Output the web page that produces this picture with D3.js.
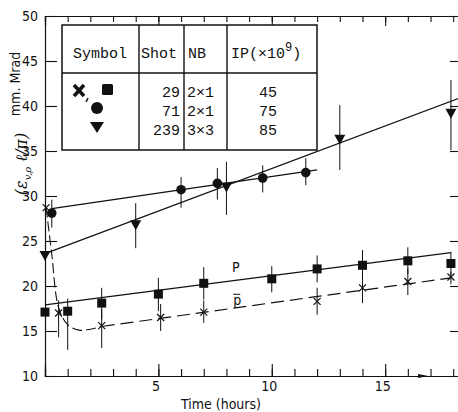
<!DOCTYPE html>
<html><head><meta charset="utf-8">
<script src="https://cdn.jsdelivr.net/npm/d3@7"></script>
<style>
html,body{margin:0;padding:0;background:#fff;}
svg{display:block;}
.lab{font-family:"DejaVu Sans Condensed","Liberation Sans Narrow","DejaVu Sans",sans-serif;font-stretch:condensed;font-size:14px;fill:#111;}
.mono{font-family:"Liberation Mono","DejaVu Sans Mono",monospace;font-size:15px;fill:#111;}
</style></head>
<body>
<svg id="c" width="458" height="412"></svg>
<script>
// p (squares, shot 29)
const tSq  = [0, 1.0, 2.5, 5.0, 7.0, 10.0, 12.0, 14.0, 16.0, 17.9];
const vSq  = [17.1, 17.2, 18.1, 19.1, 20.3, 20.8, 21.9, 22.3, 22.8, 22.5];
const loSq = [17.1, 12.9, 16.3, 17.2, 18.5, 19.3, 20.4, 20.6, 21.3, 21.2];
const hiSq = [17.1, 18.6, 19.8, 20.9, 22.1, 22.2, 23.4, 24.0, 24.3, 23.8];
// pbar (crosses, shot 29)
const tX  = [0.05, 0.6, 2.5, 5.1, 7.0, 12.0, 14.0, 16.0, 17.9];
const vX  = [28.7, 17.0, 15.6, 16.5, 17.1, 18.3, 19.8, 20.5, 21.0];
const loX = [28.7, 14.3, 13.1, 15.0, 15.9, 16.8, 18.1, 19.0, 20.2];
const hiX = [28.7, 18.4, 17.4, 18.0, 18.4, 19.8, 21.4, 22.0, 21.6];
// circles (shot 71)
const tC  = [0.3, 6.0, 7.6, 9.6, 11.5];
const vC  = [28.1, 30.7, 31.4, 32.0, 32.6];
const loC = [26.5, 28.7, 29.6, 30.4, 31.2];
const hiC = [29.6, 32.1, 33.1, 33.4, 34.2];
// triangles (shot 239)
const tT  = [0, 4.0, 8.0, 13.0, 17.9];
const vT  = [23.4, 26.8, 31.0, 36.3, 39.2];
const loT = [23.4, 24.2, 27.9, 32.9, 35.1];
const hiT = [23.4, 29.2, 33.8, 40.1, 42.9];
// fitted lines
const fitP    = [[0, 17.9], [17.9, 23.7]];
const fitC    = [[0.3, 28.6], [12.0, 32.9]];
const fitT    = [[0, 23.6], [18.4, 41.0]];
const fitPbarCurve = [[0.05, 28.7], [0.3, 23.5], [0.6, 17.6], [1.0, 15.7], [1.5, 15.1], [2.0, 15.2], [2.5, 15.5]];
const fitPbarLine  = [[2.5, 15.5], [17.9, 20.9]];
// axes
const yTicks = [10, 15, 20, 25, 30, 35, 40, 45, 50];
const xMajor = [5, 10, 15];
const xMinor = d3.range(0, 19);
// table
const tableHead = ["Symbol", "Shot", "NB", "IP"];
const shots = ["29", "71", "239"];
const nbs = ["2×1", "2×1", "3×3"];
const ips = ["45", "75", "85"];

const svg = d3.select("#c");
const x = d3.scaleLinear().domain([0, 18.3]).range([45, 460]);
const y = d3.scaleLinear().domain([10, 50]).range([376, 16]);

// frame lines
const g = svg.append("g").attr("stroke", "#111").attr("fill", "none");
// left axis
const la = svg.append("g").attr("transform", "translate(45,0)")
  .call(d3.axisLeft(y).tickValues(yTicks).tickSize(-12).tickPadding(7).tickFormat(d3.format("d")));
la.selectAll("text").attr("class", "lab").attr("font-family", null).attr("font-size", null);
// right ticks
svg.append("g").attr("transform", "translate(460,0)")
  .call(d3.axisRight(y).tickValues(yTicks).tickSize(-10).tickFormat(""));
// bottom axis
svg.append("g").attr("transform", "translate(0,376)")
  .call(d3.axisBottom(x).tickValues(xMinor).tickSize(-7).tickFormat(""));
const ba = svg.append("g").attr("transform", "translate(0,376)")
  .call(d3.axisBottom(x).tickValues(xMajor).tickSize(-12).tickPadding(5).tickFormat(d3.format("d")));
ba.selectAll("text").attr("class", "lab").attr("font-family", null).attr("font-size", null).attr("dx", -3);
// top axis
svg.append("g").attr("transform", "translate(0,16)")
  .call(d3.axisTop(x).tickValues(xMinor).tickSize(-6).tickFormat(""));
svg.append("g").attr("transform", "translate(0,16)")
  .call(d3.axisTop(x).tickValues(xMajor).tickSize(-10).tickFormat(""));
svg.selectAll(".domain").attr("stroke", "#111").attr("stroke-width", 1.2);
svg.selectAll(".tick line").attr("stroke", "#111").attr("stroke-width", 1.1);

// arrow on x axis
svg.append("path")
  .attr("d", `M${x(16.45)},${376 - 2} L${x(16.9)},376 L${x(16.45)},${376 + 2} Z`)
  .attr("fill", "#111");

const line = d3.line().x(d => x(d[0])).y(d => y(d[1]));
const lines = svg.append("g").attr("fill", "none").attr("stroke", "#111");
lines.append("path").attr("d", line(fitP)).attr("stroke-width", 1.3);
lines.append("path").attr("d", line(fitC)).attr("stroke-width", 1.3);
lines.append("path").attr("d", line(fitT)).attr("stroke-width", 1.3);
lines.append("path").attr("d", line.curve(d3.curveCatmullRom)(fitPbarCurve))
  .attr("stroke-width", 1.1).attr("stroke-dasharray", "10,4");
line.curve(d3.curveLinear);
lines.append("path").attr("d", line(fitPbarLine)).attr("stroke-width", 1.2).attr("stroke-dasharray", "13,6");

// error bars
function errs(ts, lo, hi) {
  svg.append("g").attr("stroke", "#111").attr("stroke-width", 1)
    .selectAll("line").data(ts).join("line")
    .attr("x1", d => x(d)).attr("x2", d => x(d))
    .attr("y1", (d, i) => y(lo[i])).attr("y2", (d, i) => y(hi[i]));
}
errs(tSq, loSq, hiSq); errs(tX, loX, hiX); errs(tC, loC, hiC); errs(tT, loT, hiT);

// markers
svg.append("g").selectAll("rect").data(tSq).join("rect")
  .attr("x", d => x(d) - 4.5).attr("y", (d, i) => y(vSq[i]) - 4.5)
  .attr("width", 9).attr("height", 9).attr("fill", "#111");
svg.append("g").selectAll("circle").data(tC).join("circle")
  .attr("cx", d => x(d)).attr("cy", (d, i) => y(vC[i])).attr("r", 4.8).attr("fill", "#111");
svg.append("g").selectAll("path").data(tT).join("path")
  .attr("d", (d, i) => { const cx = x(d), cy = y(vT[i]); return `M${cx-5.5},${cy-4.5} L${cx+5.5},${cy-4.5} L${cx},${cy+5.5} Z`; })
  .attr("fill", "#111");
svg.append("g").attr("stroke", "#111").attr("stroke-width", 1.2).selectAll("path").data(tX).join("path")
  .attr("d", (d, i) => { const cx = x(d), cy = y(vX[i]); return `M${cx-3.5},${cy-3.5}L${cx+3.5},${cy+3.5}M${cx-3.5},${cy+3.5}L${cx+3.5},${cy-3.5}`; });

// labels P and pbar
svg.append("text").attr("class", "lab").attr("x", x(8.25)).attr("y", y(22.1) + 5).attr("font-size", 15).text("P");
svg.append("text").attr("class", "lab").attr("x", x(8.3)).attr("y", y(18.3) + 4).attr("font-size", 14).text("p");
svg.append("line").attr("x1", x(8.3)).attr("x2", x(8.3) + 7).attr("y1", y(18.3) - 7).attr("y2", y(18.3) - 7)
  .attr("stroke", "#111").attr("stroke-width", 1);

// axis titles
svg.append("text").attr("class", "lab").attr("x", 221).attr("y", 409).attr("text-anchor", "middle").text("Time (hours)");
svg.append("text").attr("class", "lab").attr("font-size", 13)
  .attr("transform", "translate(20,84) rotate(-90)").attr("text-anchor", "middle").text("mm. Mrad");
const yt = svg.append("text").attr("transform", "translate(27,164) rotate(-90)").attr("text-anchor", "middle")
  .attr("font-family", "DejaVu Serif, serif").attr("font-style", "italic").attr("font-size", 16).attr("fill", "#111");
yt.append("tspan").text("(ε");
yt.append("tspan").attr("font-size", 10).attr("dy", 4).text("v,ρ");
yt.append("tspan").attr("dy", -4).text(" ℓ/π)");

// table
const tb = svg.append("g");
tb.append("rect").attr("x", 62).attr("y", 25).attr("width", 255).attr("height", 125)
  .attr("fill", "#fff").attr("stroke", "#111").attr("stroke-width", 1.5);
const tl = [[62, 73, 317, 73], [139, 25, 139, 150], [184, 25, 184, 150], [227, 25, 227, 150]];
tb.selectAll("line").data(tl).join("line")
  .attr("x1", d => d[0]).attr("y1", d => d[1]).attr("x2", d => d[2]).attr("y2", d => d[3])
  .attr("stroke", "#111").attr("stroke-width", 1.4);
tb.append("text").attr("class", "mono").attr("x", 73).attr("y", 58).text(tableHead[0]);
tb.append("text").attr("class", "mono").attr("x", 141).attr("y", 58).text(tableHead[1]);
tb.append("text").attr("class", "mono").attr("x", 188).attr("y", 58).text(tableHead[2]);
const ipt = tb.append("text").attr("class", "mono").attr("x", 231).attr("y", 58);
ipt.append("tspan").text(tableHead[3] + "(×10");
ipt.append("tspan").attr("dy", -7).attr("font-size", 12).text("9");
ipt.append("tspan").attr("dy", 7).text(")");
const rowY = [97, 116, 135];
tb.selectAll(".shot").data(shots).join("text").attr("class", "mono")
  .attr("x", 180).attr("y", (d, i) => rowY[i]).attr("text-anchor", "end").text(d => d);
tb.selectAll(".nb").data(nbs).join("text").attr("class", "mono")
  .attr("x", 187).attr("y", (d, i) => rowY[i]).text(d => d);
tb.selectAll(".ip").data(ips).join("text").attr("class", "mono")
  .attr("x", 268).attr("y", (d, i) => rowY[i]).attr("text-anchor", "middle").text(d => d);
// table symbols
tb.append("path").attr("d", "M74,85 L84,96 M74,96 L84,85").attr("stroke", "#111").attr("stroke-width", 3.5).attr("fill", "none");
tb.append("path").attr("d", "M88,98 L86,102").attr("stroke", "#111").attr("stroke-width", 1.5);
tb.append("rect").attr("x", 102).attr("y", 84).attr("width", 11).attr("height", 11).attr("rx", 1.5).attr("fill", "#111");
tb.append("circle").attr("cx", 97).attr("cy", 108).attr("r", 6).attr("fill", "#111");
tb.append("path").attr("d", "M90,122 L104,122 L97,133 Z").attr("fill", "#111");
</script>
</body></html>
